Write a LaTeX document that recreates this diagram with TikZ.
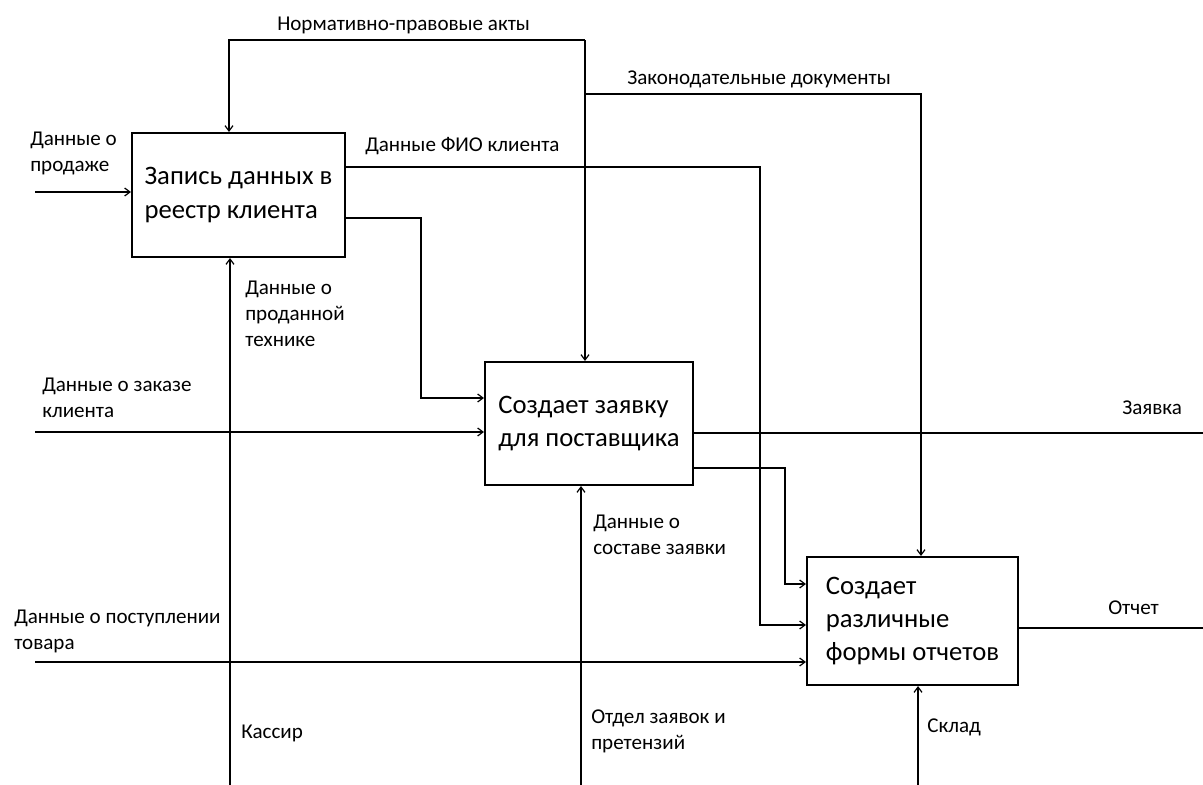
\documentclass[tikz,border=0pt]{standalone}
\usepackage{fontspec}
\setmainfont{Carlito}
\usetikzlibrary{arrows.meta}
\begin{document}
\begin{tikzpicture}[x=0.75pt,y=-0.75pt,
  box/.style={draw,line width=1.6pt,minimum width=#1,align=left,font=\fontsize{20}{25}\selectfont,inner sep=0pt},
  lbl/.style={anchor=west,align=left,inner sep=0pt,font=\fontsize{15.8}{19.5}\selectfont},
  flow/.style={line width=1.1pt},
  arr/.style={flow,-{Straight Barb[length=4pt,width=6pt,line width=0.9pt]}}]
\useasboundingbox (0,0) rectangle (1203,785);
\fill[white] (0,0) rectangle (1203,785);

% activity boxes
\node[box=213*0.75pt,minimum height=124*0.75pt] (A) at (238.5,195) {Запись данных в\\реестр клиента};
\node[box=208*0.75pt,minimum height=123*0.75pt] (B) at (589,423.5) {Создает заявку\\для поставщика};
\node[box=211*0.75pt,minimum height=128*0.75pt] (C) at (912.5,621) {Создает\\различные\\формы отчетов};

% route points
\coordinate (ctlJ) at (585,40);
\coordinate (ctlA) at (229,40);
\coordinate (lawJ) at (585,94);
\coordinate (lawC) at (921,94);
\coordinate (saleIn) at (35,192);
\coordinate (orderIn) at (35,432);
\coordinate (goodsIn) at (35,662);
\coordinate (fioY) at (0,167);
\coordinate (fioX) at (760,0);
\coordinate (toBY) at (0,218);
\coordinate (toBX) at (421,0);
\coordinate (toBIn) at (0,398);
\coordinate (fioIn) at (0,625);
\coordinate (reqY) at (0,433);
\coordinate (reqOut) at (1203,433);
\coordinate (compY) at (0,468);
\coordinate (compX) at (785,0);
\coordinate (compIn) at (0,584);
\coordinate (repY) at (0,628);
\coordinate (repOut) at (1203,628);
\coordinate (mechA) at (230,785);
\coordinate (mechB) at (581,785);
\coordinate (mechC) at (918,785);

% controls
\draw[arr] (ctlJ) -- (ctlA) -- (ctlA |- A.north);
\draw[arr] (ctlJ) -- (ctlJ |- B.north);
\draw[arr] (lawJ) -- (lawC) -- (lawC |- C.north);

% inputs
\draw[arr] (saleIn) -- (saleIn -| A.west);
\draw[arr] (orderIn) -- (orderIn -| B.west);
\draw[arr] (goodsIn) -- (goodsIn -| C.west);

% links between activities
\draw[arr] (A.east |- fioY) -- (fioX |- fioY) -- (fioX |- fioIn) -- (C.west |- fioIn);
\draw[arr] (A.east |- toBY) -- (toBX |- toBY) -- (toBX |- toBIn) -- (B.west |- toBIn);
\draw[arr] (B.east |- compY) -- (compX |- compY) -- (compX |- compIn) -- (C.west |- compIn);

% outputs
\draw[flow] (B.east |- reqY) -- (reqOut);
\draw[flow] (C.east |- repY) -- (repOut);

% mechanisms
\draw[arr] (mechA) -- (mechA |- A.south);
\draw[arr] (mechB) -- (mechB |- B.south);
\draw[arr] (mechC) -- (mechC |- C.south);

% labels
\node[lbl] (tNorm) at (277,25) {Нормативно-правовые акты};
\node[lbl] (tLaw) at (627,79) {Законодательные документы};
\node[lbl] (tSale) at (30,153) {Данные о\\продаже};
\node[lbl] (tFio) at (365,146) {Данные ФИО клиента};
\node[lbl] (tSold) at (245,314) {Данные о\\проданной\\технике};
\node[lbl] (tOrder) at (42,398) {Данные о заказе\\клиента};
\node[lbl] (tGoods) at (14,631) {Данные о поступлении\\товара};
\node[lbl] (tCash) at (241,733) {Кассир};
\node[lbl] (tComp) at (593,535) {Данные о\\составе заявки};
\node[lbl] (tDept) at (591,731) {Отдел заявок и\\претензий};
\node[lbl] (tReq) at (1122,408) {Заявка};
\node[lbl] (tRep) at (1108,608) {Отчет};
\node[lbl] (tStore) at (927,727) {Склад};
\end{tikzpicture}
\end{document}
